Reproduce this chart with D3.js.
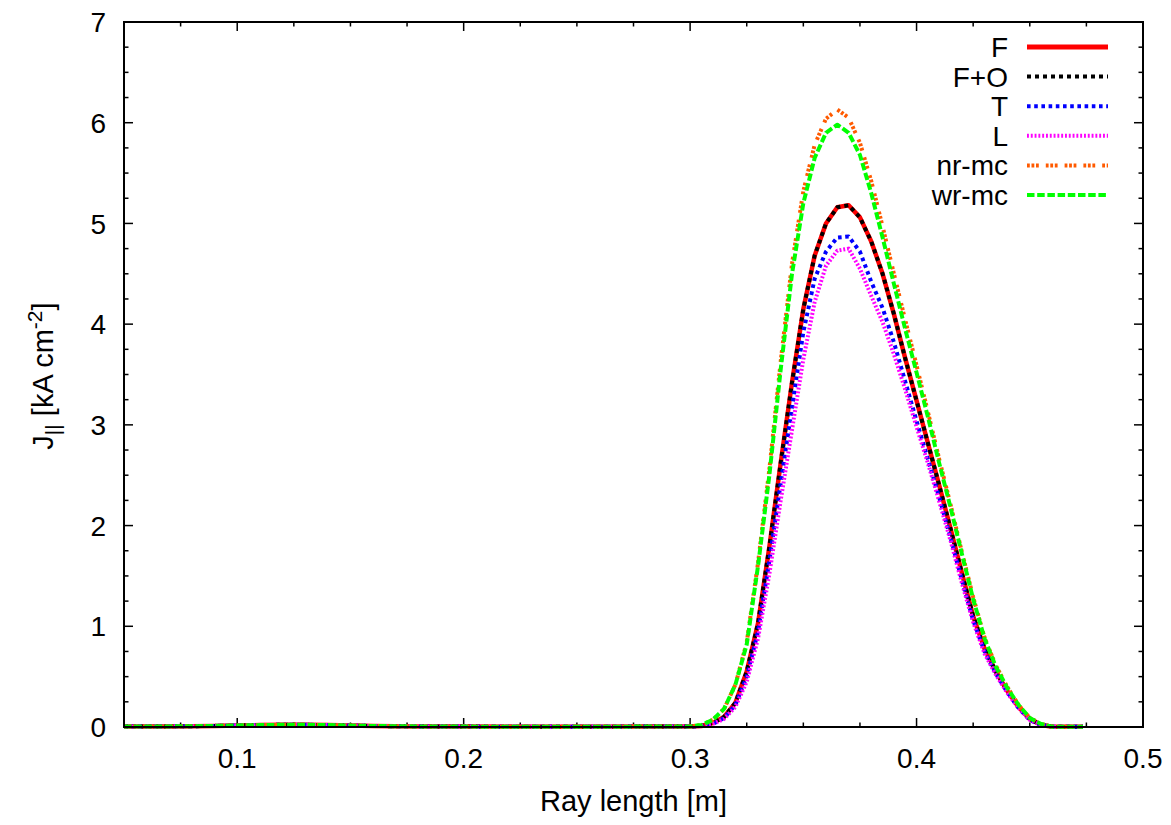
<!DOCTYPE html>
<html><head><meta charset="utf-8">
<script src="https://cdn.jsdelivr.net/npm/d3@7"></script>
<style>body{margin:0;background:#fff} text{font-family:"Liberation Sans",Arial,Helvetica,sans-serif;fill:#000}</style>
</head><body><svg id="c" width="1171" height="825"></svg>
<script>
// ---- data ----
const rayLength = [0.05,0.06,0.07,0.08,0.09,0.10,0.11,0.12,0.13,0.14,0.15,0.16,0.18,0.20,0.22,0.24,0.26,0.28,0.29,
  0.300,0.305,0.310,0.315,0.320,0.325,0.330,0.335,0.340,0.345,0.350,0.355,0.360,0.365,0.370,0.375,
  0.380,0.385,0.390,0.395,0.400,0.405,0.410,0.415,0.420,0.425,0.430,0.435,0.440,0.445,0.450,0.455,
  0.460,0.465,0.470,0.4735];
const flatPart = [0.004,0.005,0.006,0.008,0.011,0.015,0.019,0.022,0.022,0.019,0.014,0.010,0.006,0.004,0.003,0.003,0.003,0.004,0.004];
const tailPart = [0.003,0.002,0.002,0.002];
const peakF   = [0.005,0.01,0.04,0.10,0.24,0.55,1.03,1.79,2.62,3.42,4.15,4.68,5.00,5.16,5.18,5.06,
  4.82,4.50,4.10,3.66,3.24,2.82,2.40,1.97,1.53,1.10,0.78,0.55,0.36,0.20,0.08,0.02];
const peakFO  = [0.005,0.01,0.04,0.10,0.24,0.55,1.03,1.79,2.62,3.42,4.15,4.68,5.00,5.16,5.18,5.06,
  4.82,4.50,4.10,3.66,3.24,2.82,2.40,1.97,1.53,1.10,0.78,0.55,0.36,0.20,0.08,0.02];
const peakT   = [0.005,0.01,0.03,0.09,0.22,0.50,0.95,1.65,2.42,3.17,3.92,4.45,4.72,4.86,4.87,4.72,
  4.42,4.16,3.82,3.43,3.04,2.66,2.28,1.88,1.46,1.06,0.75,0.53,0.35,0.19,0.07,0.02];
const peakL   = [0.005,0.01,0.03,0.08,0.20,0.45,0.88,1.52,2.25,2.95,3.65,4.22,4.58,4.73,4.75,4.55,
  4.28,4.02,3.70,3.35,2.98,2.62,2.24,1.85,1.43,1.04,0.73,0.52,0.34,0.19,0.07,0.02];
const peakNR  = [0.005,0.02,0.07,0.18,0.42,0.84,1.63,2.56,3.63,4.60,5.32,5.78,6.04,6.13,6.05,5.80,
  5.42,4.97,4.50,4.04,3.59,3.13,2.66,2.21,1.74,1.29,0.89,0.61,0.40,0.22,0.09,0.03];
const peakWR  = [0.005,0.02,0.07,0.18,0.42,0.82,1.60,2.50,3.55,4.50,5.20,5.65,5.90,5.98,5.90,5.68,
  5.30,4.86,4.40,3.95,3.52,3.08,2.62,2.18,1.72,1.27,0.88,0.60,0.39,0.22,0.09,0.03];
const seriesNames = ["F","F+O","T","L","nr-mc","wr-mc"];
const seriesColors = ["#ff0000","#000000","#0000ff","#ff00ff","#ff5a00","#00ff00"];
const seriesDashes = [null,"4,4","3.6,3.6","1.9,1.9","2.8,1.7,2.8,1.7,2.8,7","7.5,2.7"];
const xTicks = [0.1,0.2,0.3,0.4,0.5];
const yTicks = [0,1,2,3,4,5,6,7];

const peaks = [peakF,peakFO,peakT,peakL,peakNR,peakWR];
const series = peaks.map(p => flatPart.concat(p, tailPart));

// ---- drawing ----
const svg = d3.select("#c");
const L = 124, R = 1143, T = 22, B = 727;
const x = d3.scaleLinear().domain([0.05,0.5]).range([L,R]);
const y = d3.scaleLinear().domain([0,7]).range([B,T]);

// ticks on all four sides (major + minor)
const xMinor = d3.range(0.05,0.5001,0.025).filter(v => Math.abs(Math.round(v*10)-v*10) > 1e-6);
const yMinor = d3.range(0,7.001,0.25).filter(v => Math.abs(Math.round(v)-v) > 1e-6);
const tk = svg.append("g").attr("stroke","#000").attr("stroke-width",1.5);
function tickSet(vals, len){
  vals.forEach(v=>{
    tk.append("line").attr("x1",x(v)).attr("x2",x(v)).attr("y1",B).attr("y2",B-len);
    tk.append("line").attr("x1",x(v)).attr("x2",x(v)).attr("y1",T).attr("y2",T+len);
  });
}
function tickSetY(vals, len){
  vals.forEach(v=>{
    tk.append("line").attr("y1",y(v)).attr("y2",y(v)).attr("x1",L).attr("x2",L+len);
    tk.append("line").attr("y1",y(v)).attr("y2",y(v)).attr("x1",R).attr("x2",R-len);
  });
}
tickSet(xTicks.concat([0.05]),9); tickSet(xMinor,4.5);
tickSetY(yTicks,9); tickSetY(yMinor,4.5);

// tick labels
svg.append("g").selectAll("text").data(xTicks).join("text")
  .attr("x",d=>x(d)).attr("y",768).attr("text-anchor","middle")
  .attr("font-size",28).text(d=>d3.format(".1f")(d));
svg.append("g").selectAll("text").data(yTicks).join("text")
  .attr("x",106).attr("y",d=>y(d)).attr("dy","0.36em").attr("text-anchor","end")
  .attr("font-size",28).text(d=>d);

// axis titles
svg.append("text").attr("x",(L+R)/2).attr("y",811).attr("text-anchor","middle")
  .attr("font-size",29).text("Ray length [m]");
const yl = svg.append("text").attr("transform","translate(53,376) rotate(-90)")
  .attr("text-anchor","middle").attr("font-size",29);
yl.append("tspan").text("J");
yl.append("tspan").attr("font-size",21).attr("dy",7).text("||");
yl.append("tspan").attr("dy",-7).text(" [kA cm");
yl.append("tspan").attr("font-size",21).attr("dy",-11).text("-2");
yl.append("tspan").attr("dy",11).text("]");

// curves
const line = d3.line().x((d,i)=>x(rayLength[i])).y(d=>y(d));
const g = svg.append("g").attr("fill","none");
series.forEach((s,k)=>{
  g.append("path").datum(s).attr("d",line)
    .attr("stroke",seriesColors[k]).attr("stroke-width",k===0?4.5:4)
    .attr("stroke-dasharray",seriesDashes[k]).attr("stroke-linejoin","round");
});

// frame
svg.append("rect").attr("x",L).attr("y",T).attr("width",R-L).attr("height",B-T)
  .attr("fill","none").attr("stroke","#000").attr("stroke-width",2);

// legend
const lg = svg.append("g");
seriesNames.forEach((n,k)=>{
  const yy = 47 + k*29.6;
  lg.append("text").attr("x",1008).attr("y",yy).attr("dy","0.36em").attr("text-anchor","end")
    .attr("font-size",28).text(n);
  lg.append("line").attr("x1",1027).attr("x2",1108).attr("y1",yy).attr("y2",yy)
    .attr("stroke",seriesColors[k]).attr("stroke-width",k===0?5:4)
    .attr("stroke-dasharray",seriesDashes[k]);
});
</script></body></html>
